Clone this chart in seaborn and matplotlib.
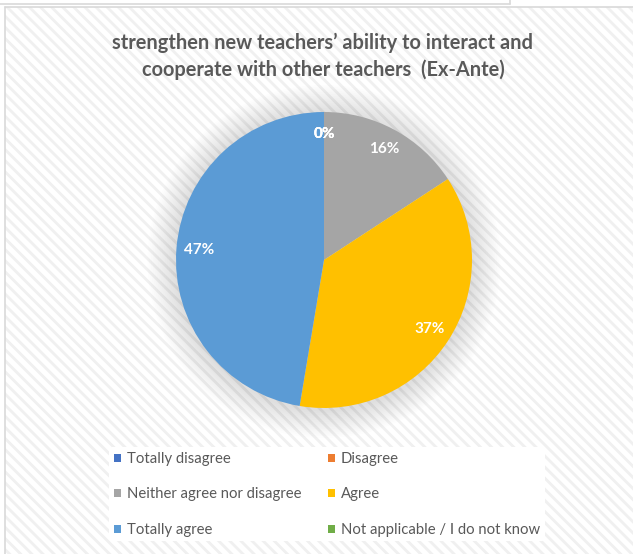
import numpy as np
import matplotlib
matplotlib.use("Agg")
import matplotlib.pyplot as plt
import seaborn as sns
from matplotlib.patches import Rectangle, Circle, Patch
from matplotlib.lines import Line2D

categories = ["Totally disagree", "Disagree", "Neither agree nor disagree",
              "Agree", "Totally agree", "Not applicable / I do not know"]
counts = [0, 0, 3, 7, 9, 0]
colors = ["#4472C4", "#ED7D31", "#A5A5A5", "#FFC000", "#5B9BD5", "#70AD47"]
title = "strengthen new teachers\u2019 ability to interact and\ncooperate with other teachers  (Ex-Ante)"

sns.set_theme(style="white")
plt.rcParams["font.family"] = ["Lato", "DejaVu Sans"]
plt.rcParams["hatch.linewidth"] = 2.0

W, H = 633, 554
fig = plt.figure(figsize=(W / 100, H / 100), dpi=100)
fig.patch.set_facecolor("white")

# striped chart background
bg = Rectangle((5 / W, 0), 1, 1 - 7 / H, transform=fig.transFigure,
               facecolor="white", edgecolor="#f0f0f0", hatch="\\\\\\",
               linewidth=0, zorder=0)
fig.add_artist(bg)
# chart border + bottom of previous chart box
fig.add_artist(Line2D([5 / W, 5 / W], [0, 1 - 7 / H], transform=fig.transFigure,
                      color="#d9d9d9", lw=1.2))
fig.add_artist(Line2D([5 / W, 1], [1 - 7 / H, 1 - 7 / H], transform=fig.transFigure,
                      color="#d9d9d9", lw=1.2))
fig.add_artist(Line2D([0, 510 / W], [1 - 4 / H, 1 - 4 / H], transform=fig.transFigure,
                      color="#d9d9d9", lw=1.2))
fig.add_artist(Line2D([510 / W, 510 / W], [1 - 4 / H, 1], transform=fig.transFigure,
                      color="#d9d9d9", lw=1.2))

fig.text(323 / W, 1 - 56 / H, title, ha="center", va="center", fontsize=14.4,
         fontweight="bold", color="#595959", linespacing=1.4)

# pie
cx, cy, r = 324, 260, 148
ax = fig.add_axes([(cx - r) / W, (H - cy - r) / H, 2 * r / W, 2 * r / H])
ax.set_facecolor("none")

# soft shadow around the pie
for i in range(16):
    ax.add_patch(Circle((0, -0.01), 1.0 + 0.012 * (i + 1), facecolor="#888888",
                        alpha=0.016, edgecolor="none", clip_on=False, zorder=0))

wedges, _, autotexts = ax.pie(counts, colors=colors, startangle=90, counterclock=False,
                              autopct="%.0f%%", pctdistance=0.85,
                              wedgeprops=dict(linewidth=0, zorder=2),
                              textprops=dict(color="white", fontsize=11, fontweight="bold"))
for t in autotexts:
    t.set_zorder(3)
ax.set_xlim(-1, 1)
ax.set_ylim(-1, 1)
ax.set_aspect("equal")
ax.axis("off")

# legend, row order like the original
order = [0, 2, 4, 1, 3, 5]
handles = [Patch(facecolor=colors[i], edgecolor="none") for i in order]
labels = [categories[i] for i in order]
leg = fig.legend(handles, labels, ncol=2, loc="upper left",
                 bbox_to_anchor=(102 / W, 1 - 440 / H), frameon=True,
                 fontsize=10.7, handlelength=0.45, handleheight=0.45, handletextpad=0.42,
                 labelspacing=1.45, columnspacing=1.8, borderpad=0.3)
leg.get_frame().set_facecolor("white")
leg.get_frame().set_edgecolor("none")
leg.get_frame().set_alpha(1)
for t in leg.get_texts():
    t.set_color("#595959")

fig.savefig("out.png", dpi=100)
